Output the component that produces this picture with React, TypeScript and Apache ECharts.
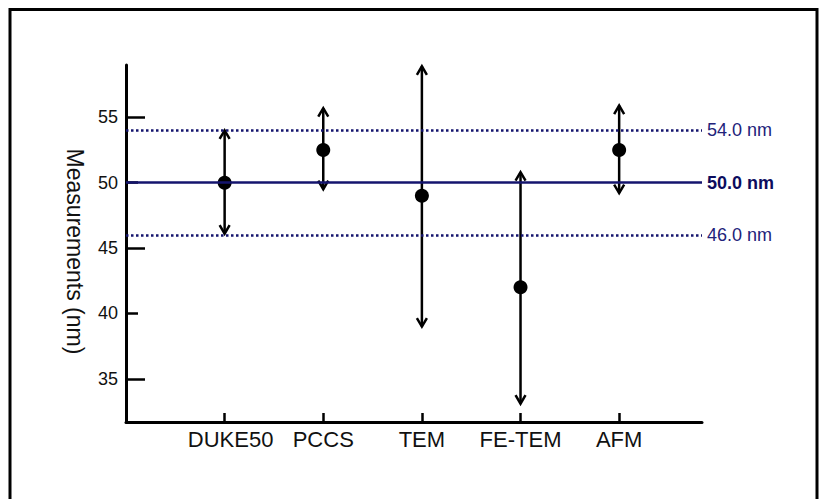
import React, { useEffect, useRef } from "react";
import * as echarts from "echarts";

const categories = ["DUKE50", "PCCS", "TEM", "FE-TEM", "AFM"];
const means = [50, 52.5, 49, 42, 52.5];
const lows = [46.1, 49.5, 39.0, 33.1, 49.2];
const highs = [54.0, 55.7, 58.9, 50.8, 55.9];
const refLines = [54, 50, 46];
const majorTicks = [35, 45, 55];
const minorTicks = [40, 50];
const yTickLabels = [35, 40, 45, 50, 55];

const NAVY = "#14146e";
const FONT = "Liberation Sans, Arial, sans-serif";

export default function App() {
  const ref = useRef<HTMLDivElement>(null);
  useEffect(() => {
    if (!ref.current) return;
    const chart = echarts.init(ref.current, null, { renderer: "svg" });
    const data = categories.map((c, i) => [i + 1, means[i], lows[i], highs[i]]);
    const xPos = categories.map((_, i) => i + 1);
    chart.setOption({
      animation: false,
      backgroundColor: "#fff",
      textStyle: { fontFamily: FONT },
      graphic: [
        {
          type: "rect",
          shape: { x: 10, y: 9.5, width: 807, height: 500 },
          style: { fill: "none", stroke: "#000", lineWidth: 3 },
        },
      ],
      grid: { left: 126, right: 122, top: 65, bottom: 77, containLabel: false },
      xAxis: {
        type: "value",
        min: 0,
        max: 5.84,
        splitLine: { show: false },
        axisLine: { show: true, onZero: false, lineStyle: { color: "#000", width: 3 } },
        axisTick: {
          show: true,
          inside: true,
          length: 9,
          customValues: xPos,
          lineStyle: { color: "#000", width: 2.5 },
        },
        axisLabel: {
          customValues: xPos,
          formatter: (v: number) => {
            const i = Math.round(v) - 1;
            const name = categories[i] ?? "";
            return i === 0 ? "{s|" + name + "}" : name;
          },
          rich: {
            s: { fontSize: 22, color: "#111", fontFamily: FONT, padding: [0, 0, 0, 12] },
          },
          fontSize: 22,
          color: "#111",
          margin: 6,
          fontFamily: FONT,
        },
      },
      yAxis: [
        {
          type: "value",
          min: 31.7,
          max: 59,
          position: "left",
          splitLine: { show: false },
          axisLine: { show: true, onZero: false, lineStyle: { color: "#000", width: 3 } },
          axisTick: {
            show: true,
            inside: true,
            length: 19,
            customValues: majorTicks,
            lineStyle: { color: "#000", width: 2.5 },
          },
          axisLabel: {
            customValues: yTickLabels,
            fontSize: 18,
            color: "#111",
            margin: 8,
            fontFamily: FONT,
          },
          name: "Measurements (nm)",
          nameLocation: "middle",
          nameRotate: -90,
          nameGap: 40,
          nameTextStyle: { fontSize: 23, color: "#111", fontFamily: FONT, padding: [0, 0, 0, 16] },
        },
        {
          type: "value",
          min: 31.7,
          max: 59,
          position: "left",
          splitLine: { show: false },
          axisLine: { show: false },
          axisTick: {
            show: true,
            inside: true,
            length: 12,
            customValues: minorTicks,
            lineStyle: { color: "#000", width: 2.5 },
          },
          axisLabel: { show: false },
        },
      ],
      series: [
        {
          type: "line",
          data: [],
          z: 1,
          markLine: {
            silent: true,
            symbol: ["none", "none"],
            data: refLines.map((v) => ({
              yAxis: v,
              lineStyle: {
                color: NAVY,
                width: 2.5,
                type: v === 50 ? "solid" : [2.5, 2.5],
              },
              label: {
                show: true,
                position: "end",
                distance: 5,
                formatter: () => v.toFixed(1) + " nm",
                color: v === 50 ? "#0c0c5e" : "#22227a",
                fontSize: 18,
                fontWeight: v === 50 ? "bold" : "normal",
                fontFamily: FONT,
              },
            })),
          },
        },
        {
          type: "custom",
          z: 3,
          data,
          renderItem: (params: any, api: any) => {
            const x = api.value(0);
            const pm = api.coord([x, api.value(1)]);
            const pl = api.coord([x, api.value(2)]);
            const ph = api.coord([x, api.value(3)]);
            const aw = 5;
            const ah = 8.5;
            const st = { stroke: "#000", lineWidth: 2.5, fill: "none" };
            return {
              type: "group",
              children: [
                { type: "line", shape: { x1: pl[0], y1: pl[1], x2: ph[0], y2: ph[1] }, style: st },
                {
                  type: "polyline",
                  shape: { points: [[ph[0] - aw, ph[1] + ah], [ph[0], ph[1]], [ph[0] + aw, ph[1] + ah]] },
                  style: st,
                },
                {
                  type: "polyline",
                  shape: { points: [[pl[0] - aw, pl[1] - ah], [pl[0], pl[1]], [pl[0] + aw, pl[1] - ah]] },
                  style: st,
                },
                { type: "circle", shape: { cx: pm[0], cy: pm[1], r: 7 }, style: { fill: "#000" } },
              ],
            };
          },
        },
      ],
    });
    return () => chart.dispose();
  }, []);
  return (
    <div
      ref={ref}
      style={{ position: "absolute", left: 0, top: 0, width: 824, height: 499 }}
    />
  );
}
